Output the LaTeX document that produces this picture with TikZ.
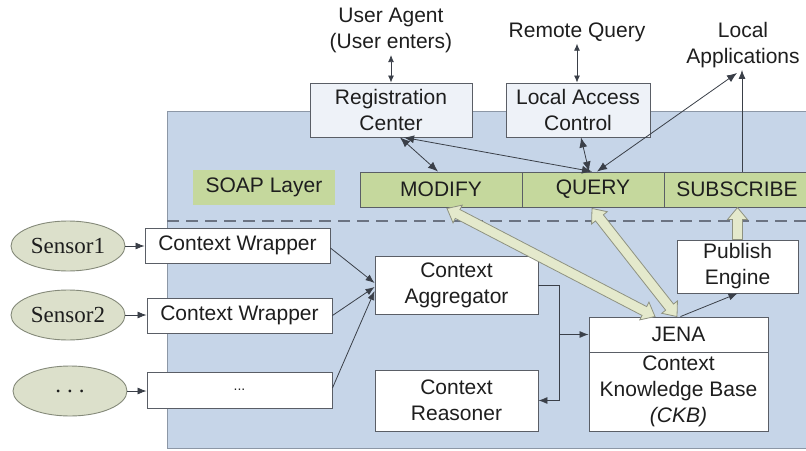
\documentclass[tikz,border=0pt]{standalone}
\usepackage{fontspec}
\setmainfont{Liberation Sans}
\newfontfamily\sensorfont{Liberation Serif}
\usetikzlibrary{shapes.geometric,arrows.meta,calc}
\definecolor{bgblue}{HTML}{C6D5E8}
\definecolor{bgline}{HTML}{8C97A6}
\definecolor{boxline}{HTML}{5A5E66}
\definecolor{regfill}{HTML}{EEF2F8}
\definecolor{soapgreen}{HTML}{C5D89D}
\definecolor{ellfill}{HTML}{DCE0CB}
\definecolor{ellline}{HTML}{858A7A}
\definecolor{bigfill}{HTML}{E4E9CC}
\definecolor{bigline}{HTML}{8E9281}
\definecolor{lineg}{HTML}{3A3F48}
\definecolor{dashg}{HTML}{6B7382}
\definecolor{txt}{HTML}{1E1E1E}
% hollow double-headed arrow between two points
\newcommand\hollowdbl[2]{%
  \draw[bigstyle] let \p1=(#1), \p2=(#2), \n1={atan2(\y2-\y1,\x2-\x1)} in
    (\p1) -- ($(\p1)+(\n1:12pt)+(\n1+90:10pt)$) -- ($(\p1)+(\n1:12pt)+(\n1+90:5pt)$)
    -- ($(\p2)+(\n1:-12pt)+(\n1+90:5pt)$) -- ($(\p2)+(\n1:-12pt)+(\n1+90:10pt)$) -- (\p2)
    -- ($(\p2)+(\n1:-12pt)+(\n1-90:10pt)$) -- ($(\p2)+(\n1:-12pt)+(\n1-90:5pt)$)
    -- ($(\p1)+(\n1:12pt)+(\n1-90:5pt)$) -- ($(\p1)+(\n1:12pt)+(\n1-90:10pt)$) -- cycle;}
% hollow single-headed arrow from #1 (tail) to #2 (tip)
\newcommand\hollowsgl[2]{%
  \draw[bigstyle] let \p1=(#1), \p2=(#2), \n1={atan2(\y2-\y1,\x2-\x1)} in
    ($(\p1)+(\n1+90:5pt)$)
    -- ($(\p2)+(\n1:-12pt)+(\n1+90:5pt)$) -- ($(\p2)+(\n1:-12pt)+(\n1+90:10pt)$) -- (\p2)
    -- ($(\p2)+(\n1:-12pt)+(\n1-90:10pt)$) -- ($(\p2)+(\n1:-12pt)+(\n1-90:5pt)$)
    -- ($(\p1)+(\n1-90:5pt)$) -- cycle;}
\begin{document}
\begin{tikzpicture}[x=1pt,y=-1pt,
  font=\fontsize{21}{26}\selectfont,
  wbox/.style={draw=boxline,fill=white,line width=0.9pt,inner sep=0pt,align=center,text=txt},
  lightbox/.style={wbox,fill=regfill},
  greenbox/.style={wbox,fill=soapgreen},
  sensor/.style={ellipse,draw=ellline,fill=ellfill,line width=0.9pt,inner sep=0pt,
    minimum width=114pt,minimum height=50pt,font=\sensorfont\fontsize{23}{26}\selectfont,text=txt},
  txtlbl/.style={inner sep=0pt,align=center,text=txt},
  conn/.style={draw=lineg,line width=0.8pt},
  arr/.style={conn,-{Latex[length=9pt,width=7pt]}},
  darr/.style={conn,{Latex[length=10pt,width=8pt]}-{Latex[length=10pt,width=8pt]}},
  sdarr/.style={conn,{Latex[length=7pt,width=6pt]}-{Latex[length=7pt,width=6pt]}},
  bigstyle/.style={draw=bigline,fill=bigfill,line width=0.8pt,line join=miter}
]
\useasboundingbox (0,0) rectangle (806,450);
\fill[white] (0,0) rectangle (806,450);
% background layer
\path[fill=bgblue,draw=bgline,line width=0.8pt] (167,111) rectangle (812,448);
\draw[dashg,line width=1.2pt,dash pattern=on 12pt off 7pt] (167,221) -- (806,221);

% top labels
\node[txtlbl] (ua) at (391,30.5) {User Agent\\(User enters)};
\node[txtlbl] (rq) at (577,32) {Remote Query};
\node[txtlbl] (la) at (743,45) {Local\\Applications};

% top boxes
\node[lightbox,minimum width=162pt,minimum height=54pt] (reg) at (391,110) {Registration\\Center};
\node[lightbox,minimum width=144pt,minimum height=54pt] (lac) at (578,110) {Local Access\\Control};

% SOAP layer
\node[fill=soapgreen,inner sep=0pt,minimum width=142pt,minimum height=35pt,text=txt] (soap) at (264,187.5) {SOAP Layer};
\node[greenbox,minimum width=162pt,minimum height=35pt] (modify) at (441,189.5) {MODIFY};
\node[greenbox,minimum width=142pt,minimum height=35pt] (query) at (593,189.5) {QUERY};
\node[greenbox,minimum width=146pt,minimum height=35pt] (subscribe) at (737,189.5) {SUBSCRIBE};

% sensors
\node[sensor] (s1) at (68,246) {Sensor1};
\node[sensor] (s2) at (68,315) {Sensor2};
\node[sensor] (s3) at (70,391) {.\hspace{6pt}.\hspace{6pt}.};

% wrappers
\node[wbox,minimum width=185pt,minimum height=35pt] (cw1) at (237.5,245.5) {Context Wrapper};
\node[wbox,minimum width=185pt,minimum height=35pt] (cw2) at (239.5,315.5) {Context Wrapper};
\node[wbox,minimum width=185pt,minimum height=36pt,font=\fontsize{14}{16}\selectfont] (cw3) at (239.5,390) {...};

% middle boxes
\node[wbox,minimum width=163pt,minimum height=58pt] (agg) at (456.5,285) {Context\\Aggregator};
\node[wbox,minimum width=163pt,minimum height=61pt] (rea) at (456.5,400.5) {Context\\Reasoner};
\node[wbox,minimum width=179pt,minimum height=35pt] (jena) at (678.5,334.5) {JENA};
\node[wbox,minimum width=179pt,minimum height=79pt] (ckb) at (678.5,391.5) {Context\\Knowledge Base\\\textit{(CKB)}};
\node[wbox,minimum width=121pt,minimum height=53pt] (pub) at (737.5,266.5) {Publish\\Engine};

% big hollow arrows
\hollowdbl{$(modify.south)+(6,1)$}{$(jena.north)+(-23.5,0)$}
\hollowdbl{$(query.south)+(-1,1)$}{$(jena.north)+(-1.5,0)$}
\hollowsgl{pub.north}{$(pub.north)+(0,-32)$}

% top connectors
\draw[sdarr,shorten <=2pt] (ua.south) -- (ua.south |- reg.north);
\draw[sdarr,shorten <=2pt] (rq.south) -- (rq.south |- lac.north);
\draw[darr] ($(reg.south)+(9,0)$) -- ($(modify.north)+(-3,0)$);
\draw[darr] ($(reg.south)+(13,0)$) -- ($(query.north)+(-1,0)$);
\draw[darr] ($(lac.south)+(3,0)$) -- ($(query.north)+(-4,0)$);
\draw[darr] ($(query.north)+(4,0)$) -- ($(la.south)+(-6,5)$);
\draw[arr] ($(subscribe.north)+(5,0)$) -- ($(la.south)+(-1,2)$);

% sensor to wrapper
\draw[arr] (s1.east) -- (s1.east -| cw1.west);
\draw[arr] (s2.east) -- (s2.east -| cw2.west);
\draw[arr] (s3.east) -- (s3.east -| cw3.west);

% wrappers to aggregator
\draw[arr] ($(cw1.east)+(0,2.5)$) -- ($(agg.west)+(0,-2)$);
\draw[arr] (cw2.east) -- ($(agg.west)+(0,2)$);
\draw[arr] ($(cw3.east)+(0,-2)$) -- ($(agg.west)+(0,6)$);

% aggregator to JENA and reasoner
\coordinate (br) at ($(agg.east -| jena.west)+(-29,0)$);
\coordinate (bj) at (br |- jena.west);
\draw[arr] (agg.east) -| (bj) -- (jena.west);
\draw[arr] (bj) |- (rea.east);

% JENA to publish engine
\draw[arr] ($(jena.north)+(2,0)$) -- (pub.south);
\end{tikzpicture}
\end{document}
